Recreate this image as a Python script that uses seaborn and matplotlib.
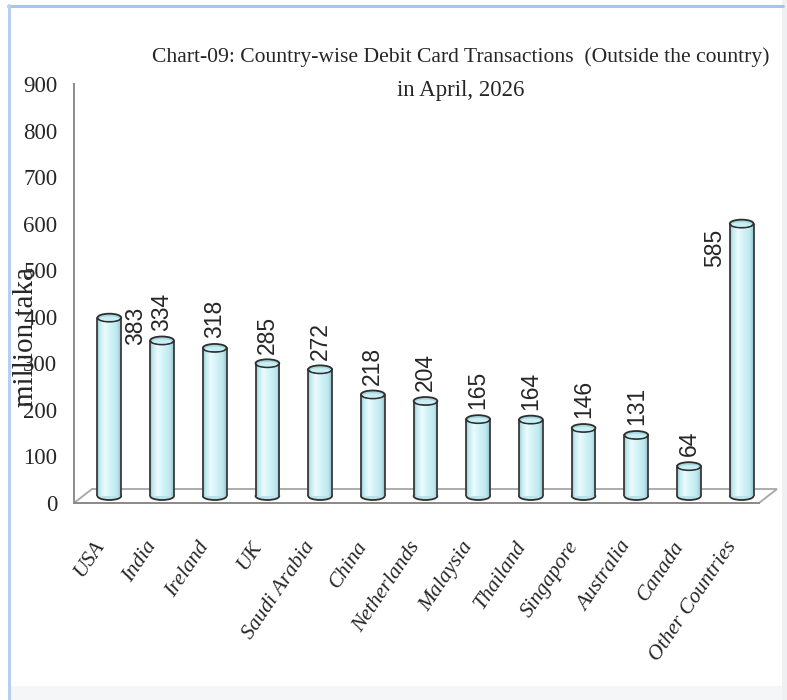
import numpy as np
import pandas as pd
import matplotlib
matplotlib.use("Agg")
import matplotlib.pyplot as plt
import matplotlib.colors as mcolors
from matplotlib.patches import Ellipse, Polygon, Rectangle
from matplotlib.lines import Line2D
import seaborn as sns

# ---- data -------------------------------------------------------------
countries = ["USA", "India", "Ireland", "UK", "Saudi Arabia", "China",
             "Netherlands", "Malaysia", "Thailand", "Singapore", "Australia",
             "Canada", "Other Countries"]
transactions = [383, 334, 318, 285, 272, 218, 204, 165, 164, 146, 131, 64, 585]
y_ticks = [0, 100, 200, 300, 400, 500, 600, 700, 800, 900]
title_lines = ["Chart-09: Country-wise Debit Card Transactions  (Outside the country)",
               "in April, 2026"]
y_label = "million taka"

# labels that sit beside their bar instead of on top of it
label_side = {"USA": "right", "Other Countries": "left"}

df = pd.DataFrame({"country": countries, "value": transactions})

# ---- figure -------------------------------------------------------------
W, H, DPI = 787, 700, 100
sns.set_style("white")
plt.rcParams["font.family"] = ["Liberation Serif", "DejaVu Serif"]

fig = plt.figure(figsize=(W / DPI, H / DPI), dpi=DPI)
fig.patch.set_facecolor("white")


def px_rect(left, top, right, bottom):
    return [left / W, (H - bottom) / H, (right - left) / W, (bottom - top) / H]


# panel frame: light blue top/left border, soft grey shadow right/bottom
fig.patches.append(Rectangle((782 / W, 0), 5 / W, 1, transform=fig.transFigure,
                             facecolor="#eef0f2", edgecolor="none", zorder=0))
fig.patches.append(Rectangle((8 / W, 0), 774 / W, 14 / H, transform=fig.transFigure,
                             facecolor="#f4f6f7", edgecolor="none", zorder=0))
fig.lines.append(Line2D([8 / W, 783 / W], [1 - 5.5 / H, 1 - 5.5 / H],
                        transform=fig.transFigure, color="#a9c4ea", lw=2.2))
fig.lines.append(Line2D([8.5 / W, 8.5 / W], [0, 1 - 5 / H],
                        transform=fig.transFigure, color="#b7cfee", lw=2.2))

# front axes carries the value axis, category axis and the floor
ax = fig.add_axes(px_rect(74, 84, 759, 503))
# bar axes sits half the floor depth behind the front plane
depth_x, depth_y = 18, 14
axb = fig.add_axes(px_rect(74 + depth_x / 2, 84 - depth_y / 2,
                           759 + depth_x / 2, 503 - depth_y / 2))

n = len(countries)
for a in (ax, axb):
    a.set_xlim(-0.5, n - 0.5)
    a.set_ylim(0, 900)
    a.patch.set_alpha(0)

# floor parallelogram
ax_w_px = (759 - 74)
ax_h_px = (503 - 84)
dx, dy = depth_x / ax_w_px, depth_y / ax_h_px
floor = Polygon([(0, 0), (1, 0), (1 + dx, dy), (dx, dy)], closed=True,
                transform=ax.transAxes, facecolor="white", edgecolor="#a6a6a6",
                lw=1.3, clip_on=False, zorder=1)
ax.add_patch(floor)

# value axis styling
for s in ("top", "right"):
    ax.spines[s].set_visible(False)
for s in ("left", "bottom"):
    ax.spines[s].set_color("#8c8c8c")
    ax.spines[s].set_linewidth(1.4)
    ax.spines[s].set_zorder(2)
ax.set_yticks(y_ticks)
ax.set_yticklabels([str(t) for t in y_ticks], fontsize=16.5)
ax.tick_params(axis="y", direction="out", length=4, width=1.2, color="#8c8c8c", pad=8)

ax.set_xticks(range(n))
ax.set_xticklabels(countries, fontsize=15.5, fontstyle="italic", rotation=56,
                   ha="right", va="center", rotation_mode="anchor")
ax.set_xticks(np.arange(-0.5, n, 1.0), minor=True)
ax.tick_params(axis="x", which="major", length=0, pad=29)
ax.tick_params(axis="x", which="minor", direction="out", length=5.5, width=1.2,
               color="#9a9a9a")
ax.set_xlabel("")
ax.set_ylabel("")

# ---- cylinders ---------------------------------------------------------
sns.barplot(data=df, x="country", y="value", ax=axb, width=0.45,
            color="#cdf1f6", saturation=1, linewidth=0, edgecolor="none",
            zorder=3)
axb.set_xlim(-0.5, n - 0.5)
axb.set_ylim(0, 900)
axb.axis("off")

units_per_px = 900 / ax_h_px
cap_h = 8 * units_per_px

shade = mcolors.LinearSegmentedColormap.from_list(
    "cyl", [(0.0, "#8fc3cc"), (0.10, "#c0eaf0"), (0.32, "#ecfbfd"),
            (0.55, "#d3f4f8"), (0.85, "#bde7ee"), (1.0, "#90c2ca")])
grad = np.linspace(0, 1, 64).reshape(1, -1)

for patch, val, name in zip(axb.patches, transactions, countries):
    x0 = patch.get_x()
    w = patch.get_width()
    h = patch.get_height()
    cx = x0 + w / 2
    # shaded body
    im = axb.imshow(grad, cmap=shade, extent=[x0, x0 + w, 0, h], aspect="auto",
                    interpolation="bilinear", zorder=3.1)
    im.set_clip_path(patch)
    # rounded base
    axb.add_patch(Ellipse((cx, 0), w, cap_h, facecolor="#b9e3e9", edgecolor="#2e2e2e",
                          lw=1.3, zorder=3.0, clip_on=False))
    # side walls
    axb.plot([x0, x0], [0, h], color="#3a3a3a", lw=1.3, zorder=3.2)
    axb.plot([x0 + w, x0 + w], [0, h], color="#3a3a3a", lw=1.3, zorder=3.2)
    # top cap
    axb.add_patch(Ellipse((cx, h), w, cap_h, facecolor="#a9d7df", edgecolor="#2e2e2e",
                          lw=1.3, zorder=3.3, clip_on=False))
    axb.add_patch(Ellipse((cx, h - cap_h * 0.12), w * 0.82, cap_h * 0.55,
                          facecolor="#c9eef3", edgecolor="none", zorder=3.35,
                          clip_on=False))

    side = label_side.get(name)
    if side == "right":
        axb.annotate(str(val), (cx + 0.5, h), xytext=(0, 8), textcoords="offset points",
                     rotation=90, ha="center", va="top", fontsize=16.5,
                     family="Liberation Sans", zorder=4)
    elif side == "left":
        axb.annotate(str(val), (cx - 0.52, h), xytext=(0, -4), textcoords="offset points",
                     rotation=90, ha="center", va="top", fontsize=16.5,
                     family="Liberation Sans", zorder=4)
    else:
        axb.annotate(str(val), (cx, h), xytext=(0, 7), textcoords="offset points",
                     rotation=90, ha="center", va="bottom", fontsize=16.5,
                     family="Liberation Sans", zorder=4)

axb.set_xlim(-0.5, n - 0.5)
axb.set_ylim(0, 900)

# ---- titles --------------------------------------------------------------
fig.text(461 / W, 1 - 62 / H, title_lines[0], ha="center", va="baseline", fontsize=15.6)
fig.text(461 / W, 1 - 96 / H, title_lines[1], ha="center", va="baseline", fontsize=16.5)
fig.text(26 / W, 1 - 337 / H, y_label, rotation=90, ha="center", va="center",
         fontsize=21)

fig.savefig("out.png", dpi=DPI, facecolor="white")
